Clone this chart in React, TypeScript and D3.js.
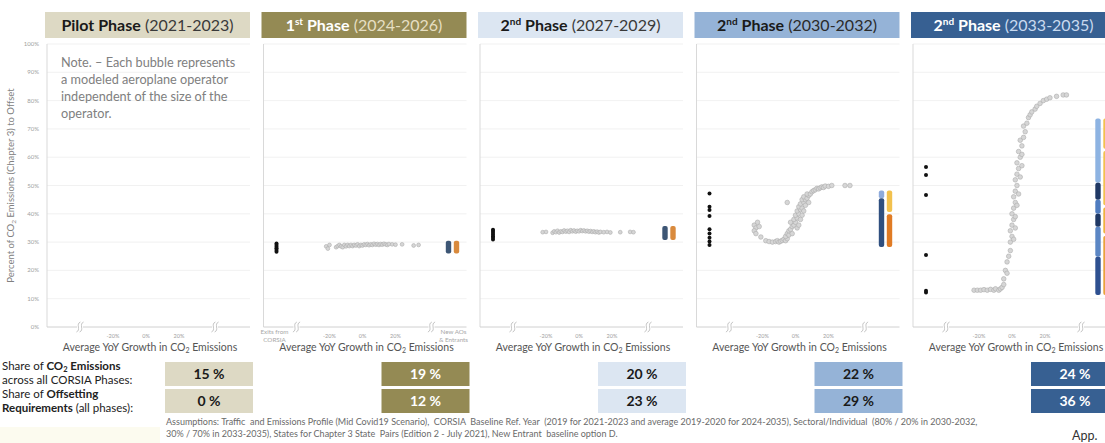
import { useMemo } from 'react'
import * as d3 from 'd3'

// ---- data ----
const phaseOrdinal = ['Pilot', '1', '2', '2', '2']
const phaseSup = ['', 'st', 'nd', 'nd', 'nd']
const phaseYears = ['(2021-2023)', '(2024-2026)', '(2027-2029)', '(2030-2032)', '(2033-2035)']
const shareEmissions = [15, 19, 20, 22, 24]
const shareOffsetting = [0, 12, 23, 29, 36]
const xTickValues = [-20, 0, 20]

// modeled operators: [avg YoY growth %, share of emissions offset]
const growthPilot: [number, number][] = []
const growth1st: [number, number][] = [
  [-22, 0.285], [-21, 0.277], [-20, 0.29], [-16, 0.282], [-15, 0.286], [-14, 0.29], [-13, 0.285],
  [-12, 0.282], [-11, 0.29], [-10, 0.285], [-9, 0.29], [-8, 0.286], [-7, 0.29], [-6, 0.286],
  [-5, 0.29], [-4, 0.288], [-3, 0.292], [-2, 0.286], [-1, 0.29], [0, 0.288], [1, 0.292],
  [2, 0.29], [3, 0.293], [4, 0.289], [5, 0.292], [6, 0.29], [7, 0.294], [8, 0.291], [9, 0.293],
  [10, 0.29], [11, 0.293], [12, 0.291], [13, 0.294], [14, 0.292], [15, 0.29], [16, 0.293],
  [18, 0.292], [20, 0.291], [24, 0.292], [31, 0.288], [34, 0.29],
]
const growth2nd: [number, number][] = [
  [-22, 0.335], [-20, 0.336], [-16, 0.333], [-15, 0.338], [-14, 0.335], [-13, 0.34], [-12, 0.334],
  [-11, 0.338], [-10, 0.336], [-9, 0.341], [-8, 0.337], [-7, 0.34], [-6, 0.336], [-5, 0.342],
  [-4, 0.338], [-3, 0.341], [-2, 0.337], [-1, 0.34], [0, 0.338], [1, 0.342], [2, 0.339],
  [3, 0.341], [4, 0.338], [5, 0.34], [6, 0.337], [7, 0.339], [8, 0.336], [9, 0.338], [10, 0.335],
  [11, 0.337], [12, 0.334], [13, 0.336], [15, 0.335], [17, 0.336], [19, 0.334], [25, 0.335],
  [31, 0.336], [33, 0.335],
]
const growth3rd: [number, number][] = [
  [-25, 0.36], [-24, 0.35], [-25, 0.34], [-23, 0.37], [-24, 0.33], [-22, 0.355], [-21, 0.318],
  [-18, 0.305], [-16, 0.302], [-14, 0.3], [-12, 0.302], [-11, 0.305], [-10, 0.3], [-9, 0.303],
  [-8, 0.306], [-7, 0.31], [-6, 0.305], [-5, 0.312], [-6, 0.32], [-5, 0.33], [-4, 0.325],
  [-4, 0.34], [-3, 0.345], [-2, 0.33], [-2, 0.355], [-1, 0.36], [-3, 0.37], [0, 0.37],
  [-1, 0.38], [1, 0.385], [0, 0.395], [2, 0.4], [1, 0.41], [3, 0.415], [2, 0.425], [4, 0.42],
  [3, 0.435], [5, 0.44], [4, 0.45], [6, 0.45], [5, 0.46], [7, 0.455], [8, 0.465], [7, 0.47],
  [9, 0.47], [10, 0.478], [11, 0.482], [12, 0.485], [13, 0.49], [14, 0.488], [15, 0.492],
  [16, 0.495], [17, 0.493], [18, 0.498], [20, 0.497], [22, 0.5], [-5, 0.44], [30, 0.5],
  [33, 0.5], [1, 0.35], [2, 0.36], [3, 0.38], [4, 0.395], [5, 0.41], [6, 0.43], [8, 0.44],
]
const growth4th: [number, number][] = [
  [-23, 0.13], [-21, 0.13], [-19, 0.13], [-17, 0.132], [-15, 0.13], [-13, 0.133], [-11, 0.13],
  [-10, 0.135], [-8, 0.13], [-7, 0.135], [-6, 0.14], [-5, 0.15], [-5, 0.17], [-4, 0.2],
  [-3, 0.19], [-3, 0.23], [-2, 0.25], [-1, 0.27], [-1, 0.3], [0, 0.32], [-1, 0.34], [0, 0.36],
  [1, 0.38], [0, 0.4], [1, 0.42], [2, 0.44], [1, 0.46], [2, 0.48], [3, 0.5], [2, 0.52],
  [3, 0.54], [4, 0.56], [3, 0.58], [5, 0.6], [4, 0.62], [6, 0.64], [5, 0.66], [7, 0.67],
  [8, 0.69], [7, 0.71], [9, 0.72], [10, 0.74], [11, 0.75], [12, 0.76], [14, 0.77], [15, 0.78],
  [17, 0.79], [19, 0.8], [21, 0.805], [23, 0.81], [27, 0.815], [31, 0.82], [33, 0.82],
  [1, 0.31], [2, 0.35], [2, 0.39], [3, 0.43], [4, 0.47], [5, 0.53], [6, 0.57], [6, 0.61],
]
const growthByPhase = [growthPilot, growth1st, growth2nd, growth3rd, growth4th]

// operators exiting CORSIA (share only)
const exitsByPhase: number[][] = [
  [],
  [0.266, 0.272, 0.278, 0.284, 0.29, 0.295],
  [0.309, 0.315, 0.321, 0.327, 0.333, 0.339, 0.344],
  [0.472, 0.425, 0.413, 0.392, 0.345, 0.33, 0.315, 0.302, 0.29],
  [0.565, 0.537, 0.466, 0.254, 0.128, 0.122],
]

// new AOs & entrants: stacked colour runs [from, to, colour]
type Run = [number, number, string]
const newAoBlue: Run[][] = [
  [],
  [[0.26, 0.305, '#3d5675']],
  [[0.307, 0.357, '#3d5675']],
  [[0.455, 0.482, '#8eaadb'], [0.283, 0.455, '#2f4f7f']],
  [[0.51, 0.737, '#8db3e2'], [0.45, 0.51, '#1f3864'], [0.4, 0.45, '#4f7cc0'],
    [0.354, 0.4, '#1f3864'], [0.248, 0.354, '#5b86c4'], [0.113, 0.248, '#2e5090']],
]
const newAoOrange: Run[][] = [
  [],
  [[0.26, 0.305, '#d98a3d']],
  [[0.307, 0.357, '#d98a3d']],
  [[0.406, 0.482, '#f2c14e'], [0.283, 0.398, '#e07b24']],
  [[0.63, 0.737, '#f2c14e'], [0.43, 0.622, '#f2c14e'], [0.33, 0.422, '#eeb23e'], [0.113, 0.322, '#e9a23b']],
]

const headerFill = ['#ddd9c4', '#948a54', '#dce6f2', '#95b3d7', '#376092']
const headerBold = ['#1a1a1a', '#ffffff', '#1a1a1a', '#1a1a1a', '#ffffff']
const headerYears = ['#3a3a3a', '#e6dfc3', '#3a3a3a', '#2a2a2a', '#c9daf0']

const footnote = [
  'Assumptions: Traffic  and Emissions Profile (Mid Covid19 Scenario),  CORSIA  Baseline Ref. Year  (2019 for 2021-2023 and average 2019-2020 for 2024-2035), Sectoral/Individual  (80% / 20% in 2030-2032,',
  '30% / 70% in 2033-2035), States for Chapter 3 State  Pairs (Edition 2 - July 2021), New Entrant  baseline option D.',
]

const WIDTH = 1105
const HEIGHT = 443
const FONT = 'Lato, "Open Sans", sans-serif'
const PANEL_X0 = 45
const PANEL_STEP = 216.5
const PANEL_W = 205
const PLOT_TOP = 44
const PLOT_BOTTOM = 327
const BOX_OFF = 120
const BOX_W = 88

function BreakMark({ x, y }: { x: number; y: number }) {
  const s = (dx: number) =>
    `M${x + dx - 2},${y + 5} C${x + dx + 3},${y + 3} ${x + dx - 3},${y - 3} ${x + dx + 2},${y - 5}`
  return (
    <g>
      <rect x={x - 3} y={y - 1} width={6} height={2} fill="#fff" />
      <path d={s(-1.6)} fill="none" stroke="#b8b8b8" strokeWidth={0.8} />
      <path d={s(1.6)} fill="none" stroke="#b8b8b8" strokeWidth={0.8} />
    </g>
  )
}

export default function App() {
  const y = useMemo(() => d3.scaleLinear().domain([0, 1]).range([PLOT_BOTTOM, PLOT_TOP]), [])
  const yTicks = y.ticks(10)
  const panels = phaseYears.map((_, i) => {
    const left = PANEL_X0 + i * PANEL_STEP
    const x = d3.scaleLinear().domain([-20, 20]).range([left + 68, left + 134])
    return { i, left, x }
  })

  return (
    <svg
      width={WIDTH}
      height={HEIGHT}
      style={{ position: 'absolute', left: 0, top: 0, background: '#fff' }}
      fontFamily={FONT}
    >
      <rect x={0} y={427} width={160} height={16} fill="#fcfbef" />

      {/* y axis */}
      <text
        transform={`translate(14,${(PLOT_TOP + PLOT_BOTTOM) / 2}) rotate(-90)`}
        textAnchor="middle"
        fontSize={9.5}
        fill="#808080"
      >
        Percent of CO<tspan fontSize={6.5} dy={1.8}>2</tspan>
        <tspan dy={-1.8}> Emissions (Chapter 3) to Offset</tspan>
      </text>
      {yTicks.map((t) => (
        <text key={t} x={39} y={y(t) + 2} textAnchor="end" fontSize={6} fill="#a0a0a0">
          {d3.format('.0%')(t)}
        </text>
      ))}

      {panels.map(({ i, left, x }) => {
        const right = left + PANEL_W
        const cx = left + PANEL_W / 2
        const exitsX = left + 15
        const blueX = left + 187
        const orangeX = left + 195
        const small = i < 3
        const boxX = left + BOX_OFF
        return (
          <g key={i}>
            {/* header */}
            <rect x={left} y={12} width={PANEL_W} height={26} fill={headerFill[i]} />
            <text x={cx} y={31} textAnchor="middle" fontSize={16}>
              <tspan fontWeight="bold" fill={headerBold[i]}>{phaseOrdinal[i]}</tspan>
              {phaseSup[i] && (
                <tspan fontWeight="bold" fill={headerBold[i]} fontSize={10} dy={-6}>
                  {phaseSup[i]}
                </tspan>
              )}
              <tspan fontWeight="bold" fill={headerBold[i]} dy={phaseSup[i] ? 6 : 0}>
                {' Phase'}
              </tspan>
              <tspan fill={headerYears[i]}> {phaseYears[i]}</tspan>
            </text>

            {/* grid */}
            {yTicks.slice(1).map((t) => (
              <line key={t} x1={left + 2} x2={right} y1={y(t)} y2={y(t)} stroke="#eeeeee" strokeWidth={0.8} />
            ))}
            <line x1={left + 2} x2={left + 2} y1={PLOT_TOP} y2={PLOT_BOTTOM} stroke="#d9d9d9" strokeWidth={1} />
            <line x1={left + 2} x2={right} y1={PLOT_BOTTOM} y2={PLOT_BOTTOM} stroke="#d0d0d0" strokeWidth={1} />
            <BreakMark x={left + 35} y={PLOT_BOTTOM} />
            <BreakMark x={left + 170} y={PLOT_BOTTOM} />

            {/* x axis */}
            {xTickValues.map((t) => (
              <text key={t} x={x(t)} y={337.5} textAnchor="middle" fontSize={5.5} fill="#a0a0a0">
                {`${t}%`}
              </text>
            ))}
            <text x={left + 105} y={351} textAnchor="middle" fontSize={10.5} fill="#555">
              {'Average  YoY Growth in CO'}
              <tspan fontSize={7} dy={2}>2</tspan>
              <tspan dy={-2}> Emissions</tspan>
            </text>
            {i === 1 && (
              <g fontSize={6.3} fill="#a8a8a8" textAnchor="middle">
                <text x={left + 13} y={334}>Exits from</text>
                <text x={left + 13} y={342}>CORSIA</text>
                <text x={left + 192} y={334}>New AOs</text>
                <text x={left + 192} y={342}>&amp; Entrants</text>
              </g>
            )}

            {/* modeled operators */}
            {growthByPhase[i].map(([g, s], k) => (
              <circle
                key={k}
                cx={x(g)}
                cy={y(s)}
                r={small ? 1.9 : 2.3}
                fill="#d6d6d6"
                stroke="#adadad"
                strokeWidth={0.6}
              />
            ))}
            {exitsByPhase[i].map((s, k) => (
              <circle key={k} cx={exitsX} cy={y(s)} r={2} fill="#111" />
            ))}
            {newAoBlue[i].map(([a, b, c], k) => (
              <rect key={k} x={blueX - 2.7} y={y(b)} width={5.4} height={y(a) - y(b)} rx={2} fill={c} />
            ))}
            {newAoOrange[i].map(([a, b, c], k) => (
              <rect key={k} x={orangeX - 2.7} y={y(b)} width={5.4} height={y(a) - y(b)} rx={2} fill={c} />
            ))}

            {/* share boxes */}
            <rect x={boxX} y={362} width={BOX_W} height={24} fill={headerFill[i]} />
            <rect x={boxX} y={389} width={BOX_W} height={24} fill={headerFill[i]} />
            <text x={boxX + BOX_W / 2} y={379} textAnchor="middle" fontSize={14} fontWeight="bold" fill={headerBold[i]}>
              {`${shareEmissions[i]} %`}
            </text>
            <text x={boxX + BOX_W / 2} y={406} textAnchor="middle" fontSize={14} fontWeight="bold" fill={headerBold[i]}>
              {`${shareOffsetting[i]} %`}
            </text>
          </g>
        )
      })}

      {/* pilot note */}
      <g fontSize={12.7} fill="#808080">
        <text x={61} y={67}>Note. – Each bubble represents</text>
        <text x={61} y={84}>a modeled aeroplane operator</text>
        <text x={61} y={101}>independent of the size of the</text>
        <text x={61} y={118}>operator.</text>
      </g>

      {/* row labels */}
      <g fontSize={11.5} fill="#222">
        <text x={2} y={370}>
          Share of <tspan fontWeight="bold">CO</tspan>
          <tspan fontWeight="bold" fontSize={7.5} dy={2}>2</tspan>
          <tspan fontWeight="bold" dy={-2}> Emissions</tspan>
        </text>
        <text x={2} y={384}>across all CORSIA Phases:</text>
        <text x={2} y={398}>
          Share of <tspan fontWeight="bold">Offsetting</tspan>
        </text>
        <text x={2} y={412}>
          <tspan fontWeight="bold">Requirements</tspan> (all phases):
        </text>
      </g>

      <g fontSize={9} fill="#6a6a6a">
        {footnote.map((l, k) => (
          <text key={k} x={166} y={425 + k * 12} style={{ whiteSpace: 'pre' }}>
            {l}
          </text>
        ))}
      </g>
      <text x={1072} y={440} fontSize={12.5} fill="#333">App.</text>
    </svg>
  )
}
